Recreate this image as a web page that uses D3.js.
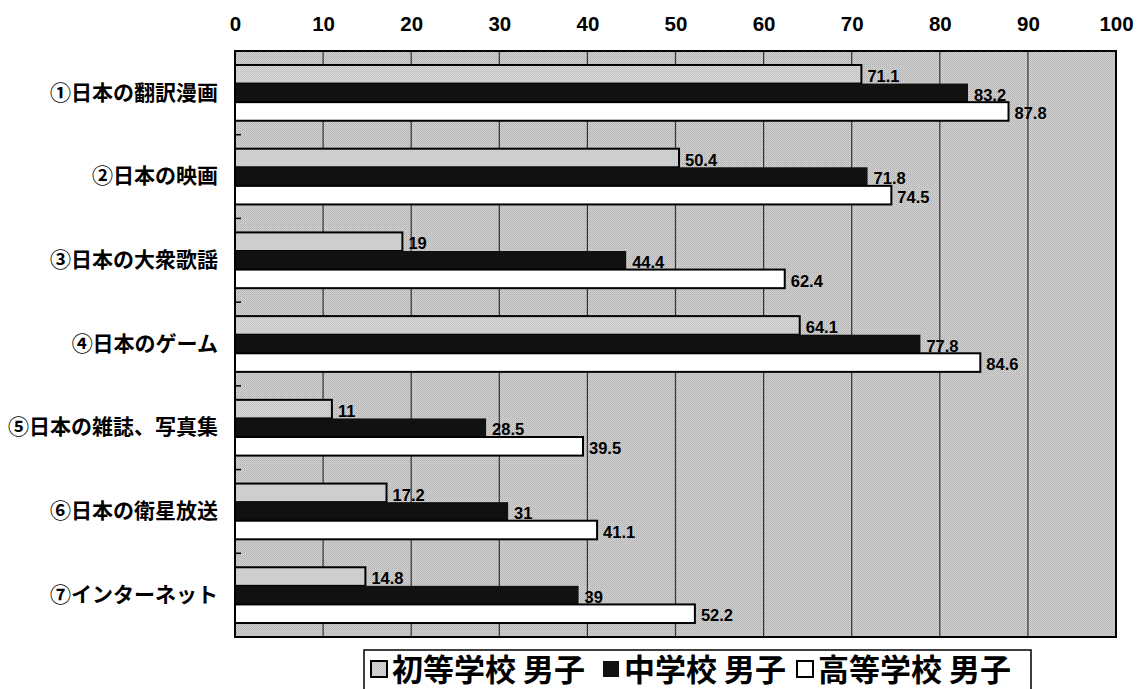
<!DOCTYPE html>
<html><head><meta charset="utf-8">
<script src="https://cdn.jsdelivr.net/npm/d3@7"></script>
<style>
html,body{margin:0;padding:0;background:#fff;}
svg{display:block;}
.cat{font-feature-settings:"fwid" 1;}
</style></head>
<body>
<svg id="chart" width="1144" height="689"></svg>
<script>
const categories = ["①日本の翻訳漫画","②日本の映画","③日本の大衆歌謡","④日本のゲーム","⑤日本の雑誌、写真集","⑥日本の衛星放送","⑦インターネット"];
const seriesNames = ["初等学校 男子","中学校 男子","高等学校 男子"];
const elementary = [71.1,50.4,19,64.1,11,17.2,14.8];
const middle = [83.2,71.8,44.4,77.8,28.5,31,39];
const high = [87.8,74.5,62.4,84.6,39.5,41.1,52.2];
const tickValues = [0,10,20,30,40,50,60,70,80,90,100];

const seriesData = [elementary, middle, high];

const svg = d3.select("#chart");
const L = 235, R = 1116, T = 51, B = 637;
const x = d3.scaleLinear().domain([0,100]).range([L,R]);
const y0 = d3.scaleBand().domain(categories).range([T,B]).padding(0);
const bw = y0.bandwidth();
const y1 = d3.scaleBand().domain([0,1,2]).range([bw*0.167, bw*0.833]).padding(0);

const defs = svg.append("defs");
function halftone(id, base, d1, d2){
  const p = defs.append("pattern").attr("id",id).attr("width",2).attr("height",2).attr("patternUnits","userSpaceOnUse");
  p.append("rect").attr("width",2).attr("height",2).attr("fill",base);
  p.append("rect").attr("width",1).attr("height",1).attr("fill",d1);
  p.append("rect").attr("x",1).attr("y",1).attr("width",1).attr("height",1).attr("fill",d2);
}
halftone("bg","#d2d2d2","#b0b0b0","#bcbcbc");
halftone("gb","#dadada","#bcbcbc","#c8c8c8");
const fills = ["url(#gb)","#111111","#ffffff"];

svg.append("rect").attr("x",L).attr("y",T).attr("width",R-L).attr("height",B-T).attr("fill","url(#bg)");

svg.append("g").selectAll("line").data(tickValues.filter(d=>d>0&&d<100)).join("line")
  .attr("x1",d=>x(d)).attr("x2",d=>x(d)).attr("y1",T).attr("y2",B)
  .attr("stroke","#333").attr("stroke-width",1.2);

const ax = svg.append("g").attr("transform",`translate(0,${T-20})`)
  .call(d3.axisTop(x).tickValues(tickValues).tickSize(0).tickPadding(0).tickFormat(d3.format("d")));
ax.select(".domain").remove();
ax.selectAll("text").attr("font-family","'Liberation Sans',Arial,sans-serif").attr("font-weight","bold")
  .attr("font-size",20.5).attr("fill","#000");

const groups = svg.append("g").selectAll("g").data(categories).join("g")
  .attr("transform",d=>`translate(0,${y0(d)})`);
seriesData.forEach((arr,si)=>{
  groups.append("rect")
    .attr("x",x(0))
    .attr("y",y1(si))
    .attr("width",(d,i)=>x(arr[i])-x(0))
    .attr("height",y1.bandwidth())
    .attr("fill",fills[si])
    .attr("stroke","#000").attr("stroke-width",si===1?0:2);
  groups.append("text")
    .attr("x",(d,i)=>x(arr[i])+6)
    .attr("y",y1(si)+y1.bandwidth()/2+2)
    .attr("dy","0.35em")
    .attr("font-family","'Liberation Sans',Arial,sans-serif")
    .attr("font-weight","bold").attr("font-size",16.5).attr("fill","#000")
    .text((d,i)=>arr[i]);
});

svg.append("rect").attr("x",L).attr("y",T).attr("width",R-L).attr("height",B-T)
  .attr("fill","none").attr("stroke","#000").attr("stroke-width",2);

const ay = svg.append("g").attr("transform",`translate(${L},0)`)
  .call(d3.axisLeft(y0).tickSize(0).tickPadding(17));
ay.select(".domain").remove();
ay.selectAll("text").attr("class","cat").attr("font-family","'Noto Sans CJK JP',sans-serif").attr("font-weight","bold")
  .attr("font-size",21).attr("fill","#000");
svg.append("g").selectAll("line").data(categories.slice(1)).join("line")
  .attr("x1",L).attr("x2",L+6).attr("y1",d=>y0(d)).attr("y2",d=>y0(d))
  .attr("stroke","#000").attr("stroke-width",1.5);

const lg = svg.append("g");
lg.append("path").attr("d","M364,690 V650 H1031 V690").attr("fill","none").attr("stroke","#000").attr("stroke-width",1.5);
const legendX = [371, 603, 797];
seriesNames.forEach((n,i)=>{
  lg.append("rect").attr("x",legendX[i]).attr("y",661).attr("width",16).attr("height",16)
    .attr("fill",fills[i]).attr("stroke","#000").attr("stroke-width",i===1?0:2);
  lg.append("text").attr("x",legendX[i]+21).attr("y",669).attr("dy","0.38em")
    .attr("font-family","'Noto Sans CJK JP',sans-serif").attr("font-weight","bold")
    .attr("font-size",31).attr("fill","#000").text(n);
});
</script>
</body></html>
